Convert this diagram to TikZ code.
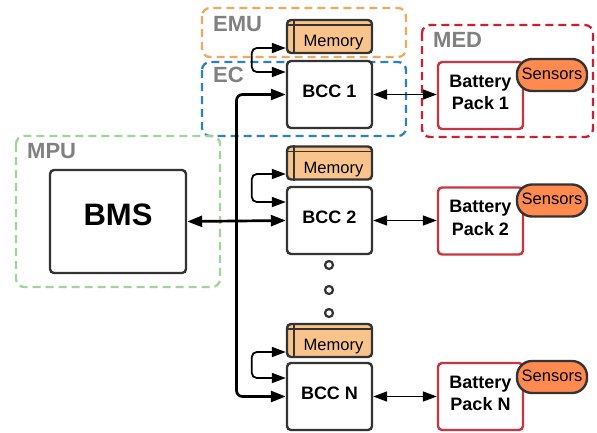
\documentclass[tikz,border=0pt]{standalone}
\usepackage{fontspec}
\setmainfont{Liberation Sans}
\usetikzlibrary{arrows.meta,calc}
\definecolor{dark}{HTML}{333333}
\definecolor{memfill}{HTML}{F8C48C}
\definecolor{sensfill}{HTML}{FF8A50}
\definecolor{bpred}{HTML}{CC3340}
\definecolor{emuc}{HTML}{F2A860}
\definecolor{ecc}{HTML}{2E80C0}
\definecolor{medc}{HTML}{CC2030}
\definecolor{mpuc}{HTML}{A0D498}
\definecolor{glabc}{HTML}{808080}
\begin{document}
\begin{tikzpicture}[x=1pt,y=-1pt,
  grp/.style={line width=2.3pt, dash pattern=on 8pt off 5pt, rounded corners=8pt},
  glab/.style={font=\fontsize{22}{24}\selectfont\bfseries, text=glabc, anchor=base west, inner sep=0pt},
  bccbox/.style={draw=dark, line width=2.4pt, rounded corners=4pt, fill=white,
    minimum width=85pt, minimum height=67pt, font=\fontsize{18}{22}\selectfont\bfseries, text depth=7pt},
  bmsbox/.style={draw=dark, line width=2.4pt, rounded corners=4pt, fill=white,
    minimum width=136pt, minimum height=103pt, font=\fontsize{31}{36}\selectfont\bfseries, text depth=14pt},
  bpbox/.style={draw=bpred, line width=2.4pt, rounded corners=4pt, fill=white,
    minimum width=85pt, minimum height=67pt, align=center,
    font=\fontsize{18}{22.5}\selectfont\bfseries, text depth=6pt},
  membox/.style={draw=dark, line width=2.4pt, rounded corners=4pt, fill=memfill,
    minimum width=85pt, minimum height=33pt},
  memline/.style={draw=dark, line width=1.6pt},
  memtxt/.style={font=\fontsize{16.5}{20}\selectfont, text height=11.8pt, text depth=0pt, inner sep=0pt},
  sensbox/.style={draw=dark, line width=2.4pt, rounded corners=15pt, fill=sensfill,
    minimum width=70pt, minimum height=32pt, inner sep=0pt,
    font=\fontsize{16.5}{20}\selectfont, text depth=3pt},
  dotc/.style={circle, draw=dark, line width=2.2pt, minimum size=8pt, inner sep=0pt},
  tip/.style={-{Triangle[length=15pt,width=11pt]}},
  bus/.style={line width=2.7pt, rounded corners=6pt},
  thin/.style={line width=1.6pt, {Triangle[length=14pt,width=10pt]}-{Triangle[length=14pt,width=10pt]}},
  lp/.style={line width=1.8pt, rounded corners=5pt, {Triangle[length=14pt,width=10pt]}-{Triangle[length=14pt,width=10pt]}}
]
\useasboundingbox (0,0) rectangle (597,432);

% groups
\draw[grp, draw=emuc] (202,8) rectangle (406,57);
\draw[grp, draw=ecc] (202,62) rectangle (406,136);
\draw[grp, draw=medc] (422,25) rectangle (593,137);
\draw[grp, draw=mpuc] (16,136) rectangle (220,287);
\node[glab] (lemu) at (213,31) {EMU};
\node[glab] (lec) at (213,82) {EC};
\node[glab] (lmed) at (433,47) {MED};
\node[glab] (lmpu) at (27,158) {MPU};

% BMS
\node[bmsbox] (bms) at (118,221.5) {BMS};

% memories
\foreach \n/\y in {1/36.5, 2/163, N/340.5}{
  \node[membox] (m\n) at (329.5,\y) {};
  \draw[memline] ([xshift=8pt]m\n.north west) -- ([xshift=8pt]m\n.south west);
  \draw[memline] ([yshift=-6pt]m\n.north west) -- ([yshift=-6pt]m\n.north east);
  \node[memtxt] (mt\n) at ($(m\n.center)+(4,4.5)$) {Memory};
}

% BCCs
\node[bccbox] (b1) at (329.5,94.5) {BCC 1};
\node[bccbox] (b2) at (329.5,220.5) {BCC 2};
\node[bccbox] (bN) at (329.5,396.5) {BCC N};

% battery packs
\node[bpbox] (p1) at (480.5,95.5) {Battery\\Pack 1};
\node[bpbox] (p2) at (480.5,221) {Battery\\Pack 2};
\node[bpbox] (pN) at (480.5,396.5) {Battery\\Pack N};

% sensors
\node[sensbox] (s1) at (552,75) {Sensors};
\node[sensbox] (s2) at (552,200.5) {Sensors};
\node[sensbox] (sN) at (552,377) {Sensors};

% dots
\node[dotc] (d1) at (329,265) {};
\node[dotc] (d2) at (329,290) {};
\node[dotc] (d3) at (329,313) {};

% bus
\coordinate (jn) at ($(bms.east)!0.5!(b2.west)$);
\draw[bus, {Triangle[length=15pt,width=11pt]}-{Triangle[length=15pt,width=11pt]}] (bms.east) -- (b2.west);
\draw[bus, tip] (jn) |- (b1.west);
\draw[bus, tip] (jn) |- (bN.west);

% memory loops
\draw[lp] ([yshift=-11.5pt]m1.west) -- ++(-34,0) |- ([yshift=22.5pt]b1.west);
\draw[lp] ([yshift=-11pt]m2.west) -- ++(-34,0) |- ([yshift=18.5pt]b2.west);
\draw[lp] ([yshift=-11.5pt]mN.west) -- ++(-34,0) |- ([yshift=18.5pt]bN.west);

% BCC <-> battery
\draw[thin] (b1.east) -- (b1.east -| p1.west);
\draw[thin] (b2.east) -- (b2.east -| p2.west);
\draw[thin] (bN.east) -- (bN.east -| pN.west);
\end{tikzpicture}
\end{document}
